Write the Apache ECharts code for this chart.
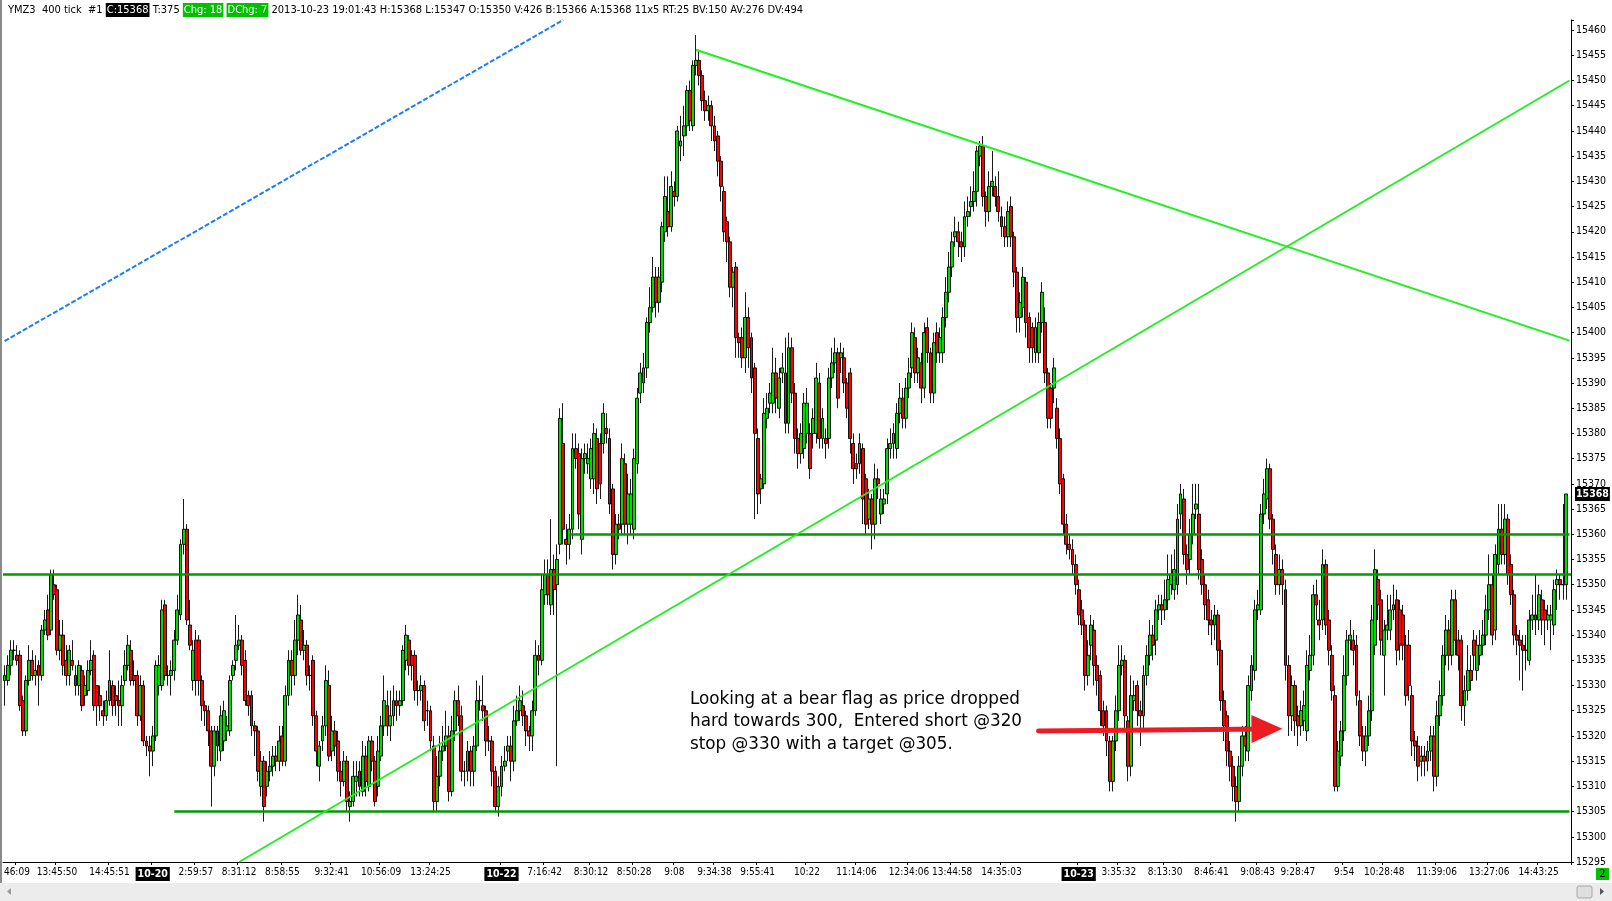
<!DOCTYPE html>
<html><head><meta charset="utf-8">
<script src="https://cdn.jsdelivr.net/npm/echarts@6/dist/echarts.min.js"></script>
<style>html,body{margin:0;padding:0;background:#fff;overflow:hidden}#c{width:1612px;height:901px}</style>
</head><body><div id="c"></div>
<script>
// [open, close, low, high] per 400-tick bar
const sessionA = [
[15331,15332,15326,15334],[15331,15334,15330,15336],[15334,15337,15332,15339],[15337,15337,15335,15339],[15336,15335,15334,15338],
[15336,15326,15325,15337],[15327,15321,15320,15328],[15321,15331,15320,15332],[15331,15335,15330,15338],[15335,15332,15331,15337],
[15332,15333,15330,15336],[15334,15332,15326,15335],[15332,15341,15331,15342],[15341,15343,15340,15345],[15345,15340,15339,15348],
[15341,15352,15340,15353],[15350,15348,15347,15353],[15349,15337,15336,15350],[15337,15340,15335,15343],[15340,15334,15332,15343],
[15335,15332,15330,15338],[15332,15337,15330,15338],[15335,15334,15333,15339],[15332,15330,15328,15334],[15330,15334,15328,15335],
[15333,15326,15325,15334],[15328,15330,15326,15332],[15329,15333,15328,15335],[15333,15335,15332,15339],[15336,15326,15325,15337],
[15330,15326,15322,15330],[15328,15326,15323,15330],[15325,15324,15322,15327],[15324,15327,15323,15329],[15327,15331,15326,15337],
[15330,15326,15324,15331],[15328,15327,15324,15330],[15327,15326,15322,15331],[15326,15330,15322,15332],[15331,15334,15330,15337],
[15334,15338,15333,15340],[15337,15331,15330,15339],[15332,15331,15330,15335],[15332,15324,15322,15333],[15324,15330,15323,15332],
[15330,15319,15318,15331],[15319,15318,15316,15320],[15318,15317,15312,15320]
];
const sessionB = [
[15317,15320,15314,15322],[15320,15334,15319,15335],[15330,15334,15328,15336],[15330,15345,15329,15347],[15346,15332,15331,15347],
[15332,15332,15330,15334],[15332,15333,15328,15335],[15333,15339,15331,15341],[15339,15345,15338,15348],[15344,15358,15343,15359],
[15358,15361,15356,15367],[15361,15343,15342,15362],[15342,15338,15337,15347],[15331,15337,15329,15339],[15339,15331,15328,15341],
[15339,15331,15328,15340],[15331,15326,15323,15332],[15326,15325,15322,15327],[15325,15321,15318,15326],[15321,15314,15306,15322],
[15314,15321,15312,15322],[15321,15318,15315,15322],[15317,15324,15315,15326],[15319,15325,15317,15327],[15321,15322,15319,15324],
[15321,15331,15320,15332],[15332,15334,15331,15335],[15335,15338,15333,15344],[15338,15339,15337,15342],[15339,15334,15332,15340],
[15335,15327,15326,15337],[15328,15326,15324,15329],[15328,15322,15320,15329],[15322,15321,15316,15323],[15321,15313,15311,15322],
[15310,15315,15308,15317],[15315,15306,15303,15316],[15310,15313,15308,15315],[15313,15314,15311,15317],[15314,15316,15312,15318],
[15316,15315,15313,15318],[15315,15319,15313,15322],[15320,15315,15314,15322],[15315,15328,15314,15330],[15328,15335,15326,15337],
[15335,15332,15328,15337],[15332,15339,15330,15343],[15339,15344,15336,15348],[15343,15337,15336,15346],[15337,15338,15335,15341],
[15338,15332,15330,15339],[15332,15332,15329,15334],[15335,15324,15322,15336],[15324,15317,15314,15325],[15314,15318,15311,15319],
[15319,15322,15317,15324],[15322,15331,15320,15334],[15330,15316,15315,15333],[15317,15321,15315,15324],[15321,15318,15316,15323],
[15319,15313,15311,15321],[15313,15311,15308,15315],[15311,15315,15310,15317],[15315,15307,15305,15316],[15306,15307,15303,15309],
[15307,15312,15306,15315],[15311,15312,15308,15315],[15313,15310,15308,15315],[15309,15316,15308,15319],[15316,15311,15308,15318],
[15310,15319,15309,15320],[15319,15315,15313,15320],[15315,15307,15306,15316],[15310,15317,15308,15320],[15316,15322,15315,15324],
[15322,15327,15320,15332],[15326,15322,15320,15329],[15322,15324,15319,15329],[15324,15327,15322,15330],[15327,15326,15323,15329],
[15326,15327,15324,15329],[15327,15337,15326,15338],[15335,15340,15333,15342],[15339,15334,15332,15340],[15336,15334,15331,15337],
[15336,15329,15327,15337],[15329,15329,15326,15331],[15329,15330,15327,15332],[15330,15323,15321,15331],[15325,15325,15322,15327],
[15325,15319,15317,15326],[15318,15307,15305,15320],[15307,15312,15305,15316],[15312,15317,15310,15320],[15317,15318,15315,15322],
[15318,15320,15317,15325],[15320,15309,15307,15322],[15309,15321,15308,15324],[15321,15327,15319,15329],[15327,15324,15322,15330],
[15324,15313,15311,15326],[15313,15313,15310,15315],[15313,15317,15311,15319],[15317,15313,15310,15318],[15313,15318,15310,15320],
[15318,15327,15317,15331],[15327,15327,15325,15330],[15326,15325,15323,15332],[15325,15319,15316,15326],[15319,15319,15317,15322],
[15319,15313,15310,15320],[15313,15306,15305,15314],[15306,15310,15304,15312]
];
const sessionC = [
[15310,15314,15308,15316],[15314,15315,15313,15318],[15317,15318,15315,15320],[15318,15315,15311,15320],[15315,15323,15313,15326],
[15323,15325,15322,15328],[15325,15327,15323,15330],[15326,15324,15322,15329],[15324,15321,15318,15325],[15321,15320,15317,15322],
[15320,15325,15317,15327],[15325,15336,15324,15339],[15336,15335,15332,15338],[15335,15349,15334,15352],[15348,15352,15346,15355],
[15352,15348,15346,15355],[15346,15353,15344,15363],[15353,15349,15344,15356],[15350,15355,15314,15358],[15358,15383,15356,15385],
[15378,15361,15358,15386],[15359,15358,15354,15362],[15358,15361,15355,15364],[15361,15377,15359,15380],[15377,15375,15373,15380],
[15376,15364,15361,15378],[15359,15375,15356,15377],[15375,15376,15372,15378],[15374,15375,15372,15378],[15371,15377,15369,15379],
[15371,15380,15368,15382],[15379,15369,15366,15381],[15378,15370,15367,15380],[15378,15384,15376,15386],[15381,15380,15378,15384],
[15379,15366,15364,15381],[15369,15356,15353,15370],[15356,15362,15354,15364],[15362,15361,15359,15364],[15362,15375,15360,15378],
[15374,15362,15360,15376],[15362,15368,15358,15372],[15362,15368,15360,15371],[15361,15375,15359,15377],[15374,15387,15372,15389],
[15388,15392,15386,15394],[15390,15393,15388,15396],[15393,15402,15391,15403],[15402,15405,15400,15409],[15405,15411,15404,15415],
[15411,15406,15403,15413],[15406,15411,15404,15413],[15410,15421,15408,15422],[15420,15427,15418,15431],[15424,15421,15419,15431],
[15421,15429,15420,15432],[15428,15427,15425,15430],[15427,15440,15426,15441],[15437,15438,15434,15443],[15439,15441,15435,15445],
[15441,15448,15439,15449],[15448,15442,15440,15450],[15441,15453,15440,15454],[15453,15454,15451,15459],[15454,15451,15449,15456],
[15451,15446,15444,15452],[15446,15444,15442,15448],[15444,15445,15442,15447],[15445,15441,15438,15446],[15441,15438,15436,15443],
[15439,15434,15431,15440],[15434,15429,15426,15435],[15428,15420,15418,15429],[15422,15418,15414,15423],[15418,15409,15407,15419],
[15409,15412,15405,15413],[15413,15399,15395,15414],[15399,15398,15395,15400],[15399,15395,15393,15401],[15395,15403,15392,15408],
[15403,15397,15393,15405],[15399,15391,15388,15400],[15393,15380,15363,15394],[15379,15368,15364,15381],[15369,15371,15366,15372],
[15370,15384,15369,15387],[15383,15385,15381,15388],[15386,15388,15384,15390],[15386,15392,15384,15397],[15392,15387,15384,15395],
[15385,15391,15383,15393],[15392,15393,15390,15396],[15392,15382,15380,15399],[15382,15397,15380,15400],[15397,15388,15386,15399],
[15388,15379,15376,15390],[15379,15376,15373,15381],[15376,15380,15374,15382],[15377,15386,15375,15388],[15380,15386,15378,15389],
[15380,15373,15371,15382],[15380,15383,15377,15385],[15380,15391,15378,15394],[15390,15379,15377,15392],[15379,15383,15377,15385],
[15379,15378,15375,15381],[15379,15391,15377,15393],[15391,15394,15389,15397],[15394,15396,15392,15399],[15396,15387,15385,15397],
[15395,15396,15392,15398],[15395,15390,15388,15397],[15390,15385,15383,15391],[15392,15379,15376,15393],[15378,15373,15370,15380],
[15374,15373,15371,15376],[15374,15378,15372,15380],[15377,15367,15362,15378],[15371,15362,15360,15372],[15363,15367,15361,15369],
[15367,15362,15357,15368],[15362,15371,15359,15374],[15371,15370,15367,15373],[15364,15367,15362,15369],[15366,15367,15364,15369],
[15368,15377,15366,15379],[15377,15378,15375,15381],[15378,15380,15375,15382],[15377,15384,15375,15386],[15384,15387,15382,15390],
[15387,15383,15381,15389],[15383,15389,15381,15391],[15389,15392,15387,15395],[15393,15400,15391,15402],[15399,15392,15390,15401],
[15392,15395,15390,15397],[15394,15389,15386,15396],[15389,15400,15387,15402],[15401,15396,15394,15403],[15396,15388,15386,15397],
[15388,15398,15386,15400],[15400,15396,15394,15402],[15396,15399,15394,15401],[15396,15403,15394,15405],[15403,15408,15401,15411],
[15408,15413,15406,15416],[15413,15418,15411,15420],[15419,15420,15417,15423],[15420,15418,15415,15422],[15418,15417,15414,15420],
[15417,15423,15415,15426],[15423,15424,15421,15427],[15425,15426,15423,15429],[15426,15428,15424,15432],[15428,15436,15425,15437],
[15435,15437,15433,15438],[15437,15427,15425,15439],[15427,15424,15421,15428],[15424,15429,15422,15432],[15429,15430,15427,15436],
[15429,15427,15425,15431],[15427,15424,15422,15432],[15423,15421,15419,15425],[15421,15419,15417,15423],[15419,15424,15417,15426],
[15425,15419,15417,15427],[15419,15412,15409,15420],[15412,15403,15400,15413],[15403,15406,15400,15408],[15405,15411,15403,15413],
[15410,15402,15399,15411],[15403,15397,15394,15404],[15401,15397,15394,15402],[15396,15401,15394,15403],[15396,15402,15394,15404],
[15402,15408,15400,15410],[15402,15392,15390,15405],[15392,15383,15381,15393],[15389,15383,15381,15390],[15389,15393,15386,15395],
[15385,15379,15377,15387],[15379,15370,15368,15381],[15371,15362,15360,15372],[15362,15358,15356,15364],[15358,15357,15355,15360],
[15357,15354,15352,15359],[15354,15350,15348,15356]
];
const sessionD = [
[15349,15344,15342,15351],[15345,15342,15340,15347],[15342,15332,15329,15343],[15332,15336,15330,15339],[15338,15342,15335,15344],
[15341,15334,15330,15343],[15334,15331,15328,15336],[15332,15325,15322,15333],[15325,15322,15320,15327],[15325,15319,15316,15326],
[15319,15311,15309,15320],[15311,15319,15309,15320],[15319,15325,15317,15328],[15325,15334,15323,15338],[15334,15335,15332,15338],
[15335,15324,15321,15336],[15323,15314,15311,15324],[15314,15328,15312,15332],[15327,15328,15325,15331],[15330,15325,15322,15331],
[15325,15324,15318,15327],[15324,15332,15321,15334],[15332,15336,15330,15338],[15336,15340,15334,15343],[15340,15338,15335,15342],
[15339,15345,15336,15347],[15345,15346,15343,15348],[15346,15345,15342,15348],[15345,15347,15343,15351],[15347,15351,15345,15356],
[15350,15352,15348,15356],[15349,15353,15347,15357],[15350,15363,15348,15366],[15364,15368,15361,15370],[15367,15356,15354,15369],
[15356,15353,15350,15358],[15355,15360,15352,15363],[15360,15364,15358,15370],[15365,15366,15363,15370],[15364,15353,15351,15370],
[15355,15350,15348,15357],[15350,15346,15343,15352],[15347,15343,15340,15349],[15343,15342,15338,15345],[15342,15344,15339,15346],
[15344,15337,15334,15345],[15337,15327,15325,15339],[15327,15322,15319,15329],[15324,15317,15314,15325],[15317,15314,15311,15319],
[15314,15310,15307,15316],[15310,15307,15303,15312],[15307,15314,15305,15316],[15314,15320,15312,15322],[15320,15318,15315,15322],
[15317,15330,15315,15332],[15329,15334,15327,15336],[15333,15345,15331,15347],[15345,15346,15343,15349],[15345,15364,15344,15366],
[15364,15368,15362,15371],[15367,15373,15365,15375],[15373,15363,15361,15374],[15363,15357,15354,15364],[15356,15350,15348,15358],
[15350,15353,15348,15356],[15353,15350,15346,15355],[15349,15334,15331,15351],[15334,15324,15320,15336],[15324,15330,15321,15332],
[15330,15323,15320,15331],[15324,15322,15318,15326],[15322,15325,15320,15327],[15323,15326,15321,15329],[15321,15334,15319,15337],
[15333,15336,15331,15340],[15336,15348,15334,15350],[15348,15346,15343,15351],[15343,15342,15339,15347],[15343,15354,15341,15357],
[15354,15342,15340,15355],[15343,15337,15334,15345],[15336,15329,15327,15338],[15328,15310,15309,15330],[15310,15317,15309,15319],
[15316,15321,15314,15323],[15321,15332,15319,15336],[15332,15339,15330,15341],[15339,15340,15337,15343],[15339,15337,15334,15341],
[15338,15328,15326,15340],[15327,15320,15318,15329],[15320,15317,15315,15322],[15317,15320,15314,15322],[15320,15325,15318,15328],
[15325,15343,15323,15346],[15338,15353,15336,15357],[15351,15346,15343,15353],[15347,15339,15336,15349],[15336,15341,15328,15343],
[15341,15342,15339,15348],[15341,15345,15339,15348],[15345,15346,15343,15350],[15347,15337,15334,15349],[15345,15338,15335,15347],
[15344,15338,15335,15346],[15338,15328,15326,15340],[15338,15330,15327,15341],[15328,15319,15316,15330],[15319,15318,15315,15321],
[15318,15314,15311,15320],[15315,15316,15312,15318],[15316,15315,15312,15318],[15315,15317,15313,15319],[15317,15320,15315,15322],
[15320,15312,15309,15322],[15312,15324,15310,15327],[15324,15328,15322,15331],[15328,15336,15326,15338],[15336,15341,15334,15344],
[15341,15336,15333,15343],[15336,15347,15334,15349],[15347,15339,15336,15349],[15339,15336,15333,15341],[15339,15326,15323,15340],
[15326,15329,15322,15332],[15329,15333,15327,15338],[15333,15331,15329,15336],[15339,15336,15333,15341],[15333,15338,15331,15340],
[15336,15338,15334,15341],[15338,15340,15336,15343],[15340,15345,15338,15348],[15345,15350,15343,15356],[15350,15340,15338,15352],
[15341,15356,15339,15358],[15354,15361,15352,15366],[15361,15356,15354,15366],[15356,15363,15354,15366],[15363,15352,15350,15364],
[15354,15348,15346,15356],[15348,15340,15338,15349],[15340,15339,15336,15342],[15339,15338,15331,15341],[15338,15337,15329,15340],
[15337,15337,15333,15340],[15335,15343,15334,15345],[15343,15344,15341,15348],[15344,15343,15340,15352],[15343,15348,15341,15350],
[15347,15343,15340,15349],[15345,15343,15338,15347],[15343,15344,15341,15346],[15343,15344,15337,15346],[15342,15349,15340,15351],
[15350,15351,15345,15353],[15351,15350,15347,15352],[15350,15350,15347,15366],[15350,15368,15347,15368]
];
const slotCount = 508;
const tickIndex = [4,17,34,48,62,76,90,106,122,138,161,175,190,204,217,230,244,260,276,293,307,323,348,361,376,391,406,419,434,447,464,481,497];
const tickText = ['46:09','13:45:50','14:45:51','10-20','2:59:57','8:31:12','8:58:55','9:32:41','10:56:09','13:24:25','10-22','7:16:42','8:30:12','8:50:28','9:08','9:34:38','9:55:41','10:22','11:14:06','12:34:06','13:44:58','14:35:03','10-23','3:35:32','8:13:30','8:46:41','9:08:43','9:28:47','9:54','10:28:48','11:39:06','13:27:06','14:43:25'];
const dayLabels = ['10-20','10-22','10-23'];
const lastPrice = 15368;
// drawn levels and trend lines (category index, price)
const levelPrices = [15352, 15360, 15305];
const levelStartIdx = [null, 183, 55];
const risingLine = [[76, 15295], [507, 15450]];
const fallingLine = [[224, 15456.1], [507, 15398.4]];
const blueLine = [[0, 15398.3], [181, 15462]];
const arrowLine = [[335, 15321.0], [409, 15321.4]];
const headerText = 'YMZ3  400 tick  #1 {b|C:15368} T:375 {g|Chg: 18} {g|DChg: 7} 2013-10-23 19:01:43 H:15368 L:15347 O:15350 V:426 B:15366 A:15368 11x5 RT:25 BV:150 AV:276 DV:494';
const noteText = 'Looking at a bear flag as price dropped\nhard towards 300,  Entered short @320\nstop @330 with a target @305.';

const candles = sessionA.concat(sessionB, sessionC, sessionD);
const categories = new Array(slotCount).fill('');
tickIndex.forEach((ix, k) => { categories[ix] = tickText[k]; });

const NARROW = '"Liberation Sans Narrow", "Arial Narrow", "DejaVu Sans Condensed", sans-serif';
const AX = 10;

const lvlStyle = { color: '#009a00', width: 2.5, type: 'solid' };
const trendStyle = { color: '#1ff01f', width: 2, type: 'solid' };
const markData = [];
levelPrices.forEach((p, k) => {
  if (levelStartIdx[k] === null) markData.push({ yAxis: p, lineStyle: lvlStyle });
  else markData.push([{ coord: [levelStartIdx[k], p], lineStyle: lvlStyle }, { coord: [slotCount - 1, p] }]);
});
markData.push([{ coord: risingLine[0], lineStyle: trendStyle }, { coord: risingLine[1] }]);
markData.push([{ coord: fallingLine[0], lineStyle: trendStyle }, { coord: fallingLine[1] }]);
markData.push([{ coord: blueLine[0], lineStyle: { color: '#1a7cff', width: 2, type: [5, 2] } }, { coord: blueLine[1] }]);
markData.push([{ coord: arrowLine[0], lineStyle: { color: '#ec1c24', width: 5, type: 'solid', cap: 'round' } },
  { coord: arrowLine[1], symbol: 'triangle', symbolSize: [28, 31] }]);
markData.push({ yAxis: lastPrice, lineStyle: { color: 'rgba(0,0,0,0)', width: 0, opacity: 1 },
  label: { show: true, position: 'end', distance: 4, opacity: 1, formatter: String(lastPrice), color: '#fff', backgroundColor: '#000',
    padding: [2, 1, 1, 1], fontFamily: NARROW, fontSize: 10.5, fontWeight: 'bold' } });

const chart = echarts.init(document.getElementById('c'), null, { renderer: 'canvas' });
chart.setOption({
  animation: false,
  backgroundColor: '#fff',
  title: {
    text: headerText, left: 8, top: 2, padding: 0,
    textStyle: { fontFamily: NARROW, fontSize: 11, fontWeight: 'normal', color: '#000', lineHeight: 16,
      rich: {
        b: { backgroundColor: '#000', color: '#fff', padding: [2, 1, 1, 1], fontFamily: NARROW, fontSize: 11 },
        g: { backgroundColor: '#00c000', color: '#fff', padding: [2, 1, 1, 1], fontFamily: NARROW, fontSize: 11 }
      } }
  },
  grid: { left: 3, right: 41, top: 20, bottom: 39, containLabel: false },
  xAxis: {
    type: 'category', data: categories, boundaryGap: true,
    axisLine: { lineStyle: { color: '#000', width: 1 } },
    axisTick: { show: true, length: 3, interval: (i, v) => v !== '', lineStyle: { color: '#000' } },
    axisLabel: { interval: (i, v) => v !== '', margin: 5, color: '#000', fontFamily: NARROW, fontSize: AX,
      formatter: v => dayLabels.includes(v) ? '{d|' + v + '}' : v,
      rich: { d: { backgroundColor: '#000', color: '#fff', fontWeight: 'bold', padding: [2, 2, 1, 2], fontFamily: NARROW, fontSize: 10.5 } } },
    splitLine: { show: false }
  },
  yAxis: {
    type: 'value', position: 'right', min: 15295, max: 15462, interval: 5, scale: true,
    axisLine: { show: true, lineStyle: { color: '#000', width: 1 } },
    axisTick: { show: true, length: 3, lineStyle: { color: '#000' } },
    axisLabel: { margin: 5, color: '#000', fontFamily: NARROW, fontSize: 10.5,
      formatter: v => (Math.round(v) % 5 === 0 && Math.abs(v - Math.round(v)) < 1e-6) ? String(Math.round(v)) : '' },
    splitLine: { show: false }
  },
  graphic: [
    { type: 'rect', left: 0, top: 0, shape: { width: 2, height: 883 }, style: { fill: '#8a8a8a' }, z: 100 },
    { type: 'rect', left: 0, top: 883, shape: { width: 1612, height: 18 }, style: { fill: '#ececec' }, z: 100 },
    { type: 'polygon', shape: { points: [[11, 888], [11, 895], [7, 891.5]] }, style: { fill: '#9a9a9a' }, z: 101 },
    { type: 'rect', shape: { x: 1577, y: 886, width: 15, height: 12, r: 2 }, style: { fill: '#dedede', stroke: '#a8a8a8', lineWidth: 1 }, z: 101 },
    { type: 'polygon', shape: { points: [[1600, 888], [1600, 895], [1604, 891.5]] }, style: { fill: '#555' }, z: 101 },
    { type: 'rect', shape: { x: 1596, y: 868, width: 13, height: 12 }, style: { fill: '#00c000' }, z: 101 },
    { type: 'text', style: { x: 1602.5, y: 874.5, text: '2', fill: '#000', font: '11px ' + NARROW, textAlign: 'center', textVerticalAlign: 'middle' }, z: 102 },
    { type: 'text', style: { x: 690, y: 688, text: noteText, fill: '#000', font: '16.8px "DejaVu Sans", sans-serif', lineHeight: 22.7 }, z: 50 }
  ],
  series: [{
    type: 'candlestick', data: candles, barWidth: 3.4,
    itemStyle: { color: '#00dc00', color0: '#ff0000', borderColor: '#000', borderColor0: '#000', borderWidth: 0.9 },
    markLine: { silent: true, symbol: ['none', 'none'], animation: false, label: { show: false }, data: markData }
  }]
});
</script></body></html>
